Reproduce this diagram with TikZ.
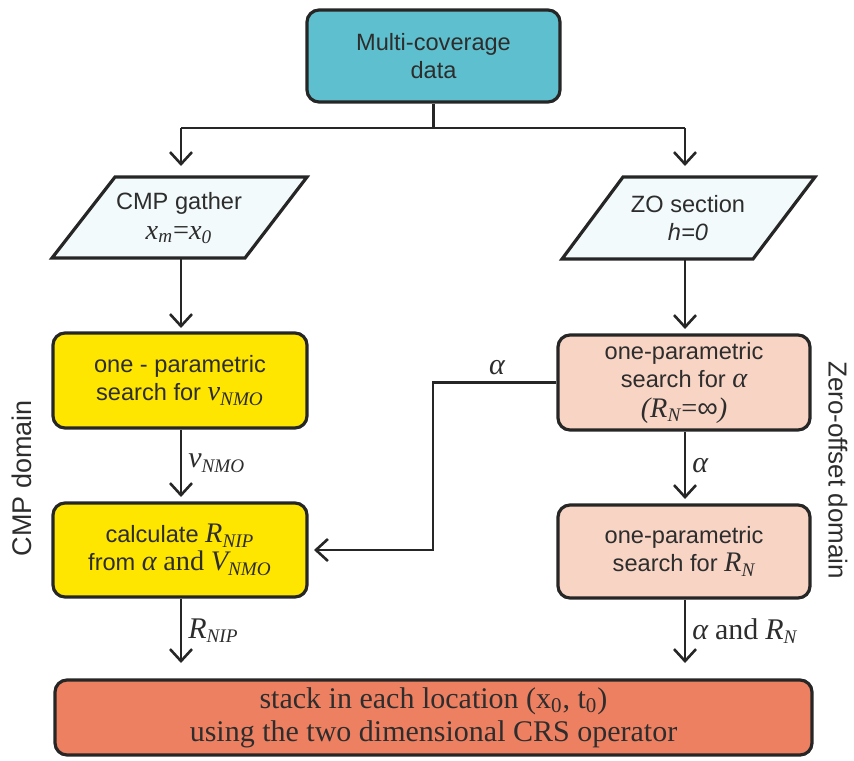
\documentclass[tikz,border=0pt]{standalone}
\usepackage{fontspec}
\setmainfont{Liberation Sans}
\newfontfamily\tnr[Scale=1.2]{Liberation Serif}
\newfontfamily\tnrb{Liberation Serif}
\usetikzlibrary{arrows.meta}
\definecolor{teal0}{RGB}{94,192,206}
\definecolor{yel0}{RGB}{255,230,0}
\definecolor{pink0}{RGB}{248,212,196}
\definecolor{sal0}{RGB}{238,128,98}
\definecolor{para0}{RGB}{243,250,252}
\definecolor{txt0}{RGB}{45,45,45}
\newcommand\tv[1]{{\tnr\itshape #1}}
\newcommand\tvs[2]{{\tnr\itshape #1\textsubscript{\footnotesize #2}}}
\begin{document}
\begin{tikzpicture}[x=0.5pt,y=-0.5pt,
  font=\fontsize{11.8}{14}\selectfont, text=txt0,
  boxa/.style={draw=black!85, line width=1.6pt, rounded corners=6pt, align=center, inner sep=2pt},
  conn/.style={draw=black!85, line width=1.3pt},
  arr/.style={conn, -{Straight Barb[length=6pt,width=11pt,line width=1.3pt]}},
  lab/.style={anchor=west, inner sep=1pt, font=\fontsize{12.5}{15}\selectfont}]
\useasboundingbox (0,0) rectangle (854,760);
% boxes
\node[boxa, fill=teal0, minimum width=126.5pt, minimum height=46pt] (top) at (433.5,56) {Multi-coverage\\data};
\node[boxa, fill=yel0, minimum width=127pt, minimum height=47.5pt] (lb1) at (180,380.5) {one - parametric\\search for \tvs{v}{NMO}};
\node[boxa, fill=yel0, minimum width=127pt, minimum height=47pt] (lb2) at (180,550) {calculate \tvs{R}{NIP}\\from \tv{α} {\tnr and} \tvs{V}{NMO}};
\node[boxa, fill=pink0, minimum width=126pt, minimum height=47.5pt] (rb1) at (684,382.5) {one-parametric\\search for \tv{α}\\[1pt] \tv{(}\tvs{R}{N}{\tnr =}{\Large ∞}\tv{)}};
\node[boxa, fill=pink0, minimum width=126pt, minimum height=46.5pt] (rb2) at (684,551.5) {one-parametric\\search for \tvs{R}{N}};
\node[boxa, fill=sal0, minimum width=378.5pt, minimum height=37.5pt, font=\tnrb\fontsize{15}{16.5}\selectfont] (bot) at (433.5,717.5) {stack in each location (x\textsubscript{0}, t\textsubscript{0})\\using the two dimensional CRS operator};
% parallelograms
\draw[fill=para0, draw=black!85, line width=1.6pt] (115,177) -- (307,177) -- (245,258) -- (52,258) -- cycle;
\draw[fill=para0, draw=black!85, line width=1.6pt] (623,177) -- (815,177) -- (753,259) -- (562,259) -- cycle;
\node[align=center] (lp) at (179,218) {CMP gather\\[1pt]\tvs{x}{m}{\tnr =}\tvs{x}{0}};
\node[align=center] (rp) at (688,218) {ZO section\\\textit{h=0}};
\coordinate (lpb) at (181,258);
\coordinate (rpb) at (685,259);
% connectors
\coordinate (split) at (433.5,128);
\coordinate (sl) at (181,128);
\coordinate (sr) at (685,128);
\coordinate (tl) at (181,166);
\coordinate (tr) at (685,166);
\draw[conn] (top.south) -- (split);
\draw[conn] (sl) -- (sr);
\draw[arr] (sl) -- (tl);
\draw[arr] (sr) -- (tr);
\coordinate (l1t) at (181,328);
\coordinate (r1t) at (685,329);
\draw[arr] (lpb) -- (l1t);
\draw[arr] (rpb) -- (r1t);
\coordinate (l2t) at (181,497);
\coordinate (r2t) at (685,499);
\draw[arr] (lb1.south -| l2t) -- (l2t) node[lab, midway, xshift=2pt] {\tvs{v}{NMO}};
\draw[arr] (rb1.south -| r2t) -- (r2t) node[lab, midway, xshift=2pt] {\tv{α}};
\coordinate (l3t) at (181,663);
\coordinate (r3t) at (685,663);
\draw[arr] (lb2.south -| l3t) -- (l3t) node[lab, midway, xshift=2pt] {\tvs{R}{NIP}};
\draw[arr] (rb2.south -| r3t) -- (r3t) node[lab, midway, xshift=2pt] {\tv{α} {\tnr and} \tvs{R}{N}};
\coordinate (ka) at (433,382.5);
\coordinate (kb) at (433,550);
\coordinate (ke) at (314,550);
\draw[arr] (rb1.west) -- (ka) -- (kb) -- (ke);
\node[font=\fontsize{12.5}{15}\selectfont] (alab) at (497,368) {\tv{α}};
% side labels
\node[rotate=90, font=\fontsize{13.5}{15}\selectfont] (cmpd) at (22,478) {CMP domain};
\node[rotate=-90, font=\fontsize{13}{15}\selectfont] (zod) at (838,470) {Zero-offset domain};
\end{tikzpicture}
\end{document}
